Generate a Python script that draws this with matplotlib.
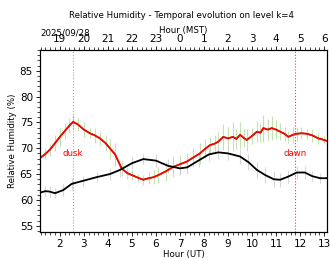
import matplotlib
matplotlib.use("Agg")
import matplotlib.pyplot as plt
import numpy as np
from matplotlib.ticker import MultipleLocator

# Data (UT hours, RH %)
t_red = [1.17, 1.4, 1.58, 1.8, 2.0, 2.2, 2.4, 2.55, 2.75, 3.0, 3.25, 3.45, 3.67, 3.9, 4.08, 4.3, 4.57,
         4.8, 5.0, 5.25, 5.47, 5.7, 5.9, 6.1, 6.4, 6.72, 7.0, 7.28, 7.55, 7.83, 8.05, 8.25, 8.45, 8.6,
         8.8, 9.0, 9.2, 9.35, 9.5, 9.65, 9.78, 10.0, 10.2, 10.35, 10.47, 10.65, 10.82, 11.0, 11.17,
         11.35, 11.51, 11.7, 11.86, 12.05, 12.28, 12.5, 12.76, 13.0, 13.18]
rh_red = [68.1, 68.9, 69.7, 71.0, 72.2, 73.3, 74.4, 75.1, 74.6, 73.6, 72.9, 72.5, 71.9, 71.0, 70.0, 68.8, 66.1,
          65.2, 64.8, 64.3, 63.9, 64.2, 64.4, 64.8, 65.5, 66.4, 66.9, 67.4, 68.2, 69.0, 69.9, 70.6, 70.9, 71.3,
          72.2, 71.9, 72.2, 71.8, 72.6, 72.0, 71.6, 72.4, 73.2, 73.0, 73.9, 73.6, 73.9, 73.6, 73.2,
          72.8, 72.2, 72.6, 72.8, 72.9, 72.8, 72.5, 71.9, 71.6, 71.3]
err_red = [0.8, 1.0, 1.2, 1.5, 1.8, 1.6, 1.5, 1.3, 1.2, 1.4, 1.0, 1.5, 1.3, 1.6, 2.0, 2.2, 1.5,
           1.2, 1.0, 0.8, 1.0, 1.2, 1.4, 1.5, 1.8, 2.0, 1.8, 1.6, 1.8, 2.0, 1.8, 1.5, 1.6, 1.8,
           2.5, 2.2, 2.8, 2.0, 2.5, 1.8, 2.2, 1.5, 2.0, 1.8, 2.6, 2.0, 2.4, 1.8, 1.6,
           1.4, 1.2, 1.5, 1.4, 1.2, 1.0, 1.2, 1.0, 0.8, 0.8]

t_blk = [1.17, 1.4, 1.58, 1.8, 2.14, 2.49, 2.97, 3.53, 4.08, 4.5, 5.0, 5.47, 6.0, 6.5, 7.0, 7.3,
         7.8, 8.2, 8.6, 9.0, 9.5, 9.85, 10.2, 10.55, 10.9, 11.17, 11.5, 11.86, 12.2, 12.5, 12.83, 13.18]
rh_blk = [61.4, 61.7, 61.6, 61.3, 61.9, 63.1, 63.7, 64.4, 65.0, 65.8, 67.1, 67.9, 67.6, 66.6, 66.1, 66.3,
          67.7, 68.8, 69.2, 69.0, 68.4, 67.3, 65.8, 64.8, 64.0, 63.9, 64.5, 65.3, 65.3, 64.6, 64.2, 64.2]
err_blk = [0.8, 0.9, 1.0, 1.0, 1.2, 1.2, 1.0, 1.0, 1.2, 1.3, 1.2, 1.0, 1.2, 1.4, 1.2, 1.2,
           1.4, 1.3, 1.2, 1.3, 1.5, 1.6, 1.5, 1.6, 1.5, 1.4, 1.2, 1.2, 1.2, 1.0, 1.0, 1.0]

dusk_ut = 2.55
dawn_ut = 11.78
ut_ticks = [2, 3, 4, 5, 6, 7, 8, 9, 10, 11, 12, 13]
mst_offset = -7

fig = plt.figure(figsize=(3.3, 2.58), dpi=100)
ax = fig.add_axes([0.121, 0.101, 0.870, 0.705])
fs = 7.5
lfs = 6.2

ax.errorbar(t_red, rh_red, yerr=err_red, fmt='none', ecolor='#a8d890', elinewidth=0.8, alpha=0.7, zorder=1)
ax.errorbar(t_blk, rh_blk, yerr=err_blk, fmt='none', ecolor='#cccccc', elinewidth=0.8, alpha=0.8, zorder=1)
ax.plot(t_red, rh_red, color='green', lw=1.0, zorder=2)
ax.plot(t_red, rh_red, color='red', lw=1.3, zorder=3)
ax.plot(t_blk, rh_blk, color='black', lw=1.3, zorder=3)

ax.axvline(dusk_ut, color='red', ls=':', lw=0.8, alpha=0.5)
ax.axvline(dawn_ut, color='red', ls=':', lw=0.8, alpha=0.8)
ax.text(dusk_ut, 68.9, 'dusk', color='red', fontsize=6.2, ha='center', va='center')
ax.text(dawn_ut, 68.9, 'dawn', color='red', fontsize=6.2, ha='center', va='center')

ax.set_xlim(1.17, 13.12)
ax.set_ylim(53.8, 89.0)
ax.set_xticks(ut_ticks)
ax.xaxis.set_minor_locator(MultipleLocator(0.2))
ax.yaxis.set_major_locator(MultipleLocator(5))
ax.yaxis.set_minor_locator(MultipleLocator(1))
ax.tick_params(labelsize=fs, length=3, width=0.6, pad=2)
ax.tick_params(which='minor', length=2, width=0.5)
ax.set_xlabel('Hour (UT)', fontsize=lfs, labelpad=1)
ax.set_ylabel('Relative Humidity (%)', fontsize=lfs, labelpad=2)

ax2 = ax.twiny()
ax2.set_xlim(ax.get_xlim())
ax2.set_xticks(ut_ticks)
ax2.set_xticklabels([str((h + mst_offset) % 24) for h in ut_ticks])
ax2.xaxis.set_minor_locator(MultipleLocator(0.2))
ax2.tick_params(labelsize=fs, length=3, width=0.6, pad=1)
ax2.tick_params(which='minor', length=2, width=0.5)
ax2.set_xlabel('Hour (MST)', fontsize=lfs, labelpad=1)

fig.text(0.55, 0.938, 'Relative Humidity - Temporal evolution on level k=4', fontsize=lfs, ha='center', va='center')
fig.text(0.121, 0.872, '2025/09/28', fontsize=lfs, ha='left', va='center')

fig.savefig('out.png', dpi=100)
